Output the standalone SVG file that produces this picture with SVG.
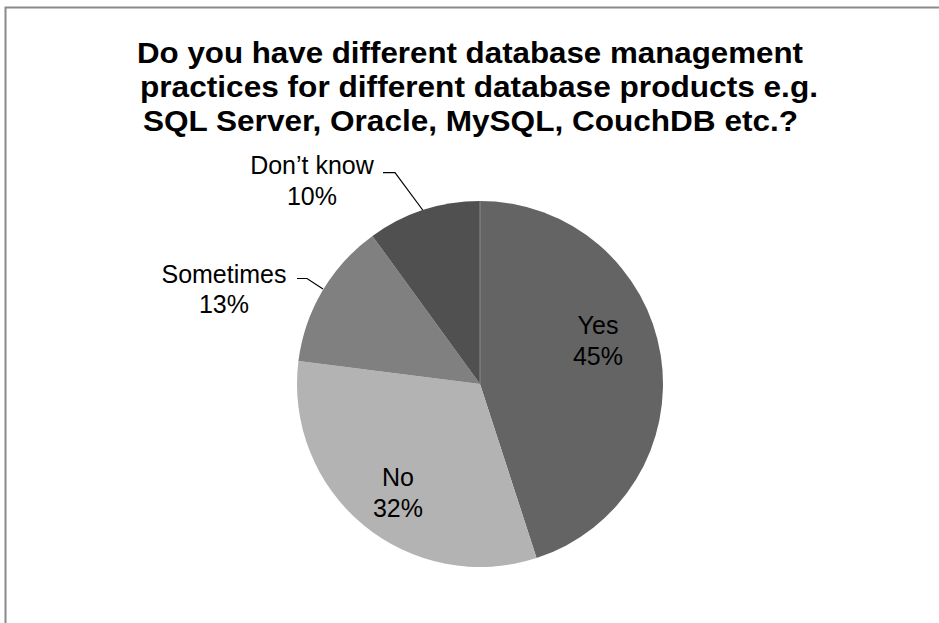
<svg xmlns="http://www.w3.org/2000/svg" width="939" height="623" viewBox="0 0 939 623">
<style>
.title{font-family:"Liberation Sans",Arial,sans-serif;font-weight:bold;font-size:29px;fill:#000;text-anchor:middle}
.lbl{font-family:"Liberation Sans",Arial,sans-serif;font-size:25px;fill:#000;text-anchor:middle}
.leader{fill:none;stroke:#000;stroke-width:1.2}
</style>
<rect x="0" y="0" width="939" height="623" fill="#fff"/>
<rect x="5.5" y="7.5" width="1000" height="700" fill="#fff" stroke="#8a8a8a" stroke-width="2"/>
<g id="title">
<text class="title" x="470" y="63" textLength="666" lengthAdjust="spacingAndGlyphs">Do you have different database management</text>
<text class="title" x="479" y="97" textLength="678" lengthAdjust="spacingAndGlyphs">practices for different database products e.g.</text>
<text class="title" x="470.5" y="131" textLength="655" lengthAdjust="spacingAndGlyphs">SQL Server, Oracle, MySQL, CouchDB etc.?</text>
</g>
<g id="slice-yes">
<path d="M480,384 L480,201 A183,183 0 0 1 536.55,558.04 Z" fill="#646464"/>
<text class="lbl" x="598" y="334">Yes</text>
<text class="lbl" x="598" y="365">45%</text>
</g>
<g id="slice-no">
<path d="M480,384 L536.55,558.04 A183,183 0 0 1 298.44,361.06 Z" fill="#b3b3b3"/>
<text class="lbl" x="398" y="486">No</text>
<text class="lbl" x="398" y="517">32%</text>
</g>
<g id="slice-sometimes">
<path d="M480,384 L298.44,361.06 A183,183 0 0 1 372.43,235.95 Z" fill="#808080"/>
<text class="lbl" x="224" y="283">Sometimes</text>
<text class="lbl" x="224" y="313">13%</text>
</g>
<g id="slice-dontknow">
<path d="M480,384 L372.43,235.95 A183,183 0 0 1 480,201 Z" fill="#505050"/>
<text class="lbl" x="312" y="174">Don’t know</text>
<text class="lbl" x="312" y="205">10%</text>
</g>
<line x1="480" y1="201" x2="480" y2="384" stroke="#8a8a8a" stroke-width="1"/>
<g id="connectors">
<polyline class="leader" points="383,172.7 395,172.7 422.7,210"/>
<polyline class="leader" points="297,278.5 307,278.5 323,289"/>
</g>
</svg>
